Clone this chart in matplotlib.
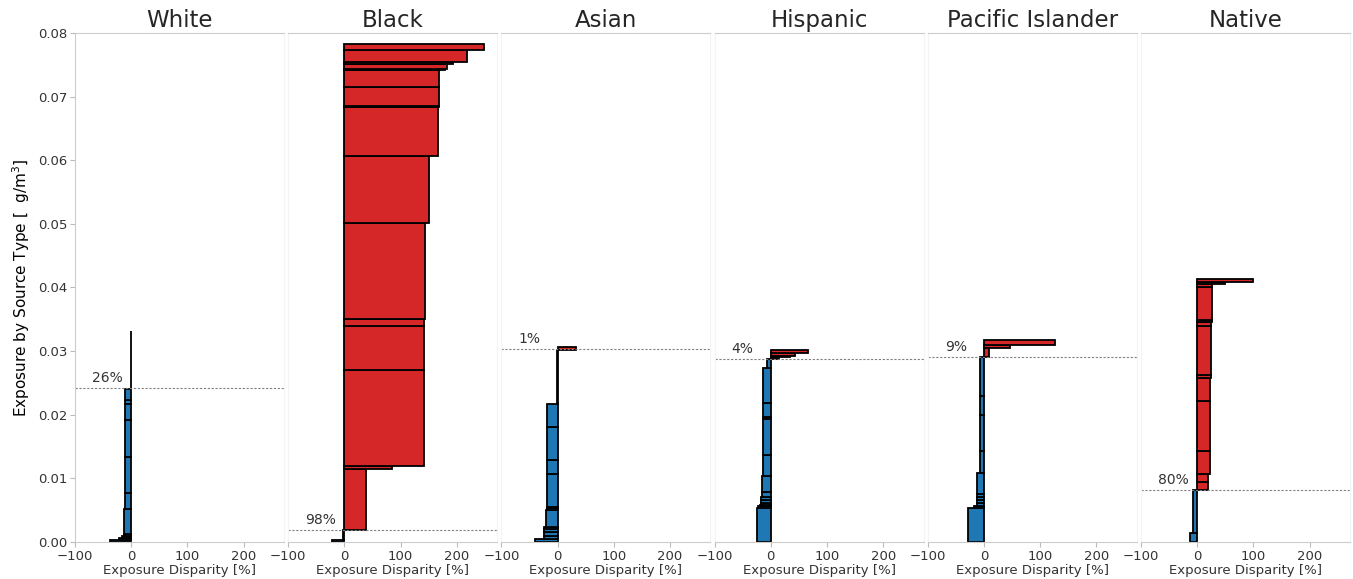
import matplotlib
matplotlib.use("Agg")
import matplotlib.pyplot as plt
import numpy as np

# group names (panel titles)
groups = ["White", "Black", "Asian", "Hispanic", "Pacific Islander", "Native"]

# bar edges along the exposure axis and disparity [%] for each bar
white_edges = [0, 0.0003, 0.0006, 0.0009, 0.0012, 0.0051, 0.0077, 0.0133, 0.0191, 0.0217, 0.0223, 0.0241, 0.0331]
white_disp = [-38, -22, -16, -12, -12, -11, -11, -11, -11, -11, -11, -1]

black_edges = [0, 0.0003, 0.0018, 0.0115, 0.0120, 0.0271, 0.0339, 0.0350, 0.0501, 0.0607, 0.0683, 0.0686,
               0.0715, 0.0742, 0.0744, 0.0751, 0.0755, 0.0773, 0.0782]
black_disp = [-22, -2, 38, 84, 142, 142, 142, 143, 150, 166, 169, 169, 169, 180, 182, 193, 219, 249]

asian_edges = [0, 0.0004, 0.0009, 0.0015, 0.0020, 0.0024, 0.0050, 0.0053, 0.0055, 0.0107, 0.0129, 0.0181,
               0.0217, 0.0302, 0.0307]
asian_disp = [-40, -24, -24, -24, -24, -21, -19, -18, -18, -18, -18, -18, -1, 33]

hisp_edges = [0, 0.0053, 0.0056, 0.0058, 0.0062, 0.0066, 0.0070, 0.0079, 0.0103, 0.0137, 0.0193, 0.0196,
              0.0219, 0.0273, 0.0287, 0.0290, 0.0293, 0.0297, 0.0301]
hisp_disp = [-25, -23, -20, -18, -18, -17, -16, -15, -14, -14, -14, -14, -14, -7, 15, 34, 44, 67]

pac_edges = [0, 0.0053, 0.0057, 0.0061, 0.0066, 0.0071, 0.0076, 0.0108, 0.0143, 0.0200, 0.0229, 0.0290,
             0.0305, 0.0310, 0.0317]
pac_disp = [-28, -18, -13, -13, -13, -13, -12, -7, -7, -7, -7, 9, 46, 127]

native_edges = [0, 0.0014, 0.0082, 0.0095, 0.0107, 0.0143, 0.0222, 0.0257, 0.0262, 0.0339, 0.0346, 0.0349,
                0.0401, 0.0405, 0.0409, 0.0413]
native_disp = [-12, -8, 20, 20, 22.5, 22.5, 22.5, 24, 24, 24, 25.5, 25.5, 27, 50, 100]

# dashed reference line (where disparity turns positive) and its label
cross_y = [0.0242, 0.0018, 0.0303, 0.0288, 0.0291, 0.0082]
cross_pct = ["26%", "98%", "1%", "4%", "9%", "80%"]

all_edges = [white_edges, black_edges, asian_edges, hisp_edges, pac_edges, native_edges]
all_disp = [white_disp, black_disp, asian_disp, hisp_disp, pac_disp, native_disp]

fig, axes = plt.subplots(1, 6, figsize=(13.53, 5.79), dpi=100, sharey=True)
fig.subplots_adjust(left=0.0554, right=0.9978, top=0.943, bottom=0.064, wspace=0.02)

for i, ax in enumerate(axes):
    edges = np.array(all_edges[i])
    disp = np.array(all_disp[i])
    cols = ["#d62728" if d > 0 else "#1f77b4" for d in disp]
    ax.barh(edges[:-1], disp, height=np.diff(edges), align="edge",
            color=cols, edgecolor="black", linewidth=1.3)

    ax.axhline(cross_y[i], color="grey", linestyle=(0, (2, 1.5)), linewidth=0.8)
    ax.text(-70, cross_y[i] + 0.0005, cross_pct[i], fontsize=10, color="#333333",
            ha="left", va="bottom")

    ax.set_title(groups[i], fontsize=16.5, color="#262626", pad=4)
    ax.set_xlim(-100, 272)
    ax.set_ylim(0, 0.08)
    ax.set_xticks([-100, 0, 100, 200])
    ax.set_xlabel("Exposure Disparity [%]", fontsize=9.5, color="#333333", labelpad=1)
    ax.tick_params(labelsize=9.5, colors="#333333", length=3.5, width=0.8, pad=2)
    ax.tick_params(color="#bbbbbb")

    for s in ["top", "bottom"]:
        ax.spines[s].set_color("#cccccc")
    ax.spines["right"].set_color("#f4f4f4")
    if i == 0:
        ax.spines["left"].set_color("#cccccc")
    else:
        ax.spines["left"].set_color("#f4f4f4")
        ax.tick_params(axis="y", left=False, labelleft=False)

axes[0].set_yticks(np.arange(0, 0.081, 0.01))
axes[0].set_yticklabels(["%.2f" % v for v in np.arange(0, 0.081, 0.01)])
axes[0].set_ylabel("Exposure by Source Type [  g/m$^3$]", fontsize=11, color="black")

plt.savefig("out.png", dpi=100)
